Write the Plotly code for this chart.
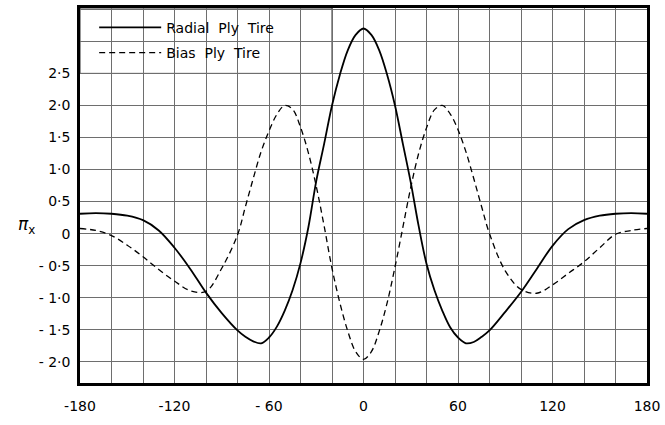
import plotly.graph_objects as go

# angle (degrees)
angle = [-180, -170, -160, -150, -140, -130, -120, -110, -100, -90, -80, -75, -70, -65, -60, -55,
         -50, -45, -40, -35, -30, -25, -20, -15, -10, -5, 0,
         5, 10, 15, 20, 25, 30, 35, 40, 45, 50, 55, 60, 65, 70, 75, 80,
         90, 100, 110, 120, 130, 140, 150, 160, 170, 180]

radial = [0.31, 0.32, 0.31, 0.28, 0.21, 0.05, -0.22, -0.55, -0.92, -1.24, -1.51, -1.61, -1.68, -1.71, -1.62, -1.45,
          -1.20, -0.88, -0.46, 0.10, 0.82, 1.40, 2.00, 2.48, 2.86, 3.10, 3.20,
          3.10, 2.86, 2.48, 2.00, 1.40, 0.80, 0.12, -0.47, -0.88, -1.20, -1.46, -1.62, -1.71, -1.69, -1.61, -1.51,
          -1.22, -0.91, -0.55, -0.19, 0.07, 0.21, 0.28, 0.31, 0.32, 0.31]

bias = [0.08, 0.05, -0.03, -0.18, -0.36, -0.56, -0.74, -0.89, -0.90, -0.54, -0.02, 0.42, 0.86, 1.28, 1.60, 1.86,
        2.00, 1.94, 1.66, 1.26, 0.74, 0.12, -0.54, -1.08, -1.52, -1.84, -1.96,
        -1.84, -1.52, -1.08, -0.52, 0.10, 0.72, 1.25, 1.65, 1.93, 2.00, 1.87, 1.62, 1.28, 0.86, 0.42, 0.00,
        -0.58, -0.87, -0.93, -0.80, -0.62, -0.44, -0.22, -0.01, 0.05, 0.08]

x_ticks = [-180, -120, -60, 0, 60, 120, 180]
x_labels = ["-180", "-120", "- 60", "0", "60", "120", "180"]
y_ticks = [-2.0, -1.5, -1.0, -0.5, 0.0, 0.5, 1.0, 1.5, 2.0, 2.5]
y_labels = ["- 2·0", "- 1·5", "- 1·0", "- 0·5", "0", "0·5", "1·0", "1·5", "2·0", "2·5"]

font = "DejaVu Sans"
grid = "#6e6e6e"

fig = go.Figure()
fig.add_trace(go.Scatter(x=angle, y=radial, mode="lines", name="Radial  Ply  Tire",
                         line=dict(color="black", width=1.8, shape="spline", smoothing=1.0),
                         legendgroup="a"))
fig.add_trace(go.Scatter(x=angle, y=bias, mode="lines", name="Bias  Ply  Tire",
                         line=dict(color="black", width=1.3, dash="6px,4px", shape="spline", smoothing=1.0),
                         legendgroup="b"))

# legend panel
fig.add_shape(type="rect", xref="x", yref="paper", x0=-180, x1=-20, y0=(2.5 + 2.33) / (3.52 + 2.33), y1=1,
              fillcolor="white", line=dict(color="#333333", width=1), layer="between")

fig.add_annotation(text="<i>π</i><sub>x</sub>", xref="paper", yref="y", x=-0.095, y=0.12,
                   showarrow=False, font=dict(family=font, size=17, color="black"), xanchor="center")

fig.update_layout(
    width=665, height=425,
    margin=dict(l=80, r=13, t=5, b=42),
    paper_bgcolor="white", plot_bgcolor="white",
    font=dict(family=font, size=14, color="black"),
    showlegend=True,
    legend=dict(x=0.025, y=0.99, xanchor="left", yanchor="top", bgcolor="rgba(0,0,0,0)",
                itemwidth=62, tracegroupgap=4, font=dict(size=14)),
    xaxis=dict(range=[-180, 180], tickvals=x_ticks, ticktext=x_labels, showgrid=True,
               gridcolor=grid, gridwidth=1, zeroline=False, showline=True, linecolor="black",
               linewidth=2.5, mirror=True, ticks="", ticklabelstandoff=8, ticklabeloverflow="allow",
               minor=dict(tick0=-180, dtick=20, showgrid=True, gridcolor=grid, gridwidth=1, ticks="")),
    yaxis=dict(range=[-2.33, 3.52], tickvals=y_ticks, ticktext=y_labels, showgrid=True,
               gridcolor=grid, gridwidth=1, zeroline=False, showline=True, linecolor="black",
               linewidth=2.5, mirror=True, ticks="", ticklabelstandoff=4,
               minor=dict(tick0=0, dtick=0.5, showgrid=True, gridcolor=grid, gridwidth=1, ticks="")),
)

fig.write_html("out.html")
